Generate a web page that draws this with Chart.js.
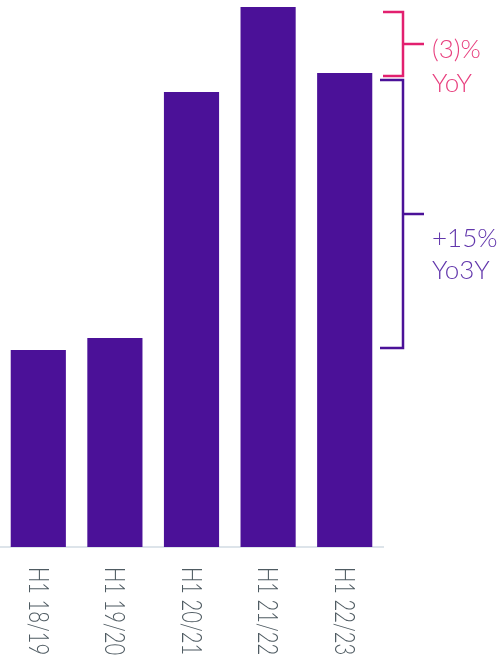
<!DOCTYPE html>
<html>
<head>
<meta charset="utf-8">
<script src="https://cdn.jsdelivr.net/npm/chart.js@4.4.0/dist/chart.umd.min.js"></script>
<style>
  html, body { margin: 0; padding: 0; background: #fff; }
  #wrap { width: 502px; height: 666px; position: relative; }
</style>
</head>
<body>
<div id="wrap"><canvas id="revChart"></canvas></div>
<script>
// Half-year periods and revenue index per period
const periods = ['H1 18/19', 'H1 19/20', 'H1 20/21', 'H1 21/22', 'H1 22/23'];
const revenue = [197, 209, 455, 540, 474];
const axisMax = 547;

// Change brackets: from one period's bar to another
const bracketFrom = [3, 4];
const bracketTo = [4, 0];
const bracketText = [['(3)%', 'YoY'], ['+15%', 'Yo3Y']];

const barColor = '#4B1198';
const labelColor = '#4f5b62';
const bracketStyle = [
    {line: '#E2206F', text: '#E8407F', topGap: 5, bottomGap: 3, armStart: 0, textDy: 6, lineGap: 34},
    {line: '#4B1198', text: '#6237AC', topGap: 7, bottomGap: -2, armStart: -3, textDy: 25, lineGap: 32}
];

// Period labels, rotated clockwise under each bar
const periodLabels = {
    id: 'periodLabels',
    afterDraw(chart) {
        const {ctx, scales: {x}, chartArea} = chart;
        ctx.save();
        ctx.fillStyle = labelColor;
        ctx.font = '300 27px Lato, "Open Sans", sans-serif';
        ctx.textAlign = 'left';
        ctx.textBaseline = 'middle';
        periods.forEach((p, i) => {
            ctx.save();
            ctx.translate(x.getPixelForValue(i) - 1, chartArea.bottom + 20);
            ctx.rotate(Math.PI / 2);
            ctx.scale(0.75, 1);
            ctx.fillText(p, 0, 0);
            ctx.restore();
        });
        ctx.restore();
    }
};

// Brackets on the right showing the change between two bars
const changeBrackets = {
    id: 'changeBrackets',
    afterDraw(chart) {
        const {ctx, scales: {y}, chartArea} = chart;
        const xr = chartArea.right;
        const xv = xr + 20;
        ctx.save();
        bracketFrom.forEach((from, b) => {
            const s = bracketStyle[b];
            const a = y.getPixelForValue(revenue[from]);
            const c = y.getPixelForValue(revenue[bracketTo[b]]);
            const top = Math.min(a, c) + s.topGap;
            const bottom = Math.max(a, c) + s.bottomGap;
            const mid = (top + bottom) / 2;

            ctx.strokeStyle = s.line;
            ctx.lineWidth = 2.5;
            ctx.beginPath();
            ctx.moveTo(xr + s.armStart, top);
            ctx.lineTo(xv, top);
            ctx.lineTo(xv, bottom);
            ctx.lineTo(xr + s.armStart, bottom);
            ctx.moveTo(xv, mid);
            ctx.lineTo(xv + 21, mid);
            ctx.stroke();

            ctx.fillStyle = s.text;
            ctx.font = '300 26px Lato, "Open Sans", sans-serif';
            ctx.textAlign = 'left';
            ctx.textBaseline = 'middle';
            bracketText[b].forEach((t, k) => {
                ctx.fillText(t, xv + 29, mid + s.textDy + k * s.lineGap);
            });
        });
        ctx.restore();
    }
};

new Chart(document.getElementById('revChart'), {
    type: 'bar',
    data: {
        labels: periods,
        datasets: [{
            data: revenue,
            backgroundColor: barColor,
            borderWidth: 0,
            categoryPercentage: 1,
            barPercentage: 0.72
        }]
    },
    options: {
        responsive: true,
        maintainAspectRatio: false,
        animation: false,
        layout: {padding: {left: 0, top: 0, right: 119, bottom: 119}},
        plugins: {legend: {display: false}, tooltip: {enabled: false}},
        scales: {
            x: {
                grid: {display: false, drawTicks: false},
                border: {display: true, color: '#dde4ea', width: 2},
                ticks: {display: false}
            },
            y: {display: false, min: 0, max: axisMax}
        }
    },
    plugins: [periodLabels, changeBrackets]
});
</script>
</body>
</html>
